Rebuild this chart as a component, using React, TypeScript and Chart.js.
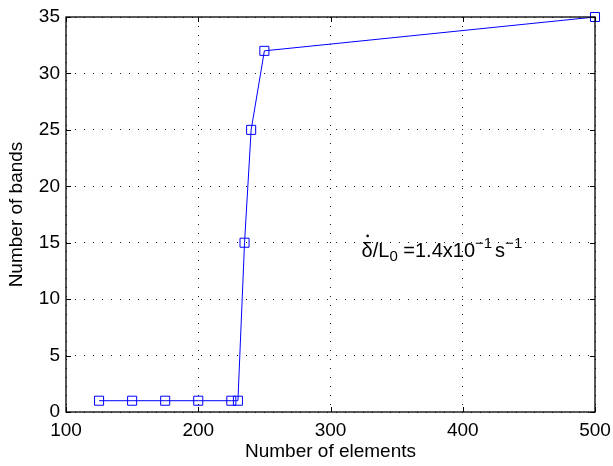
import React, { useEffect, useRef } from "react";
import { Chart, registerables } from "chart.js";

Chart.register(...registerables);

const elements = [125, 150, 175, 200, 225, 230, 235, 240, 250, 500];
const bands = [1, 1, 1, 1, 1, 1, 15, 25, 32, 35];
const xTicks = [100, 200, 300, 400, 500];
const yTicks = [0, 5, 10, 15, 20, 25, 30, 35];
const xLabel = "Number of elements";
const yLabel = "Number of bands";
const annotationPos = { x: 323.5, y: 13.7 };

const FONT = "'Liberation Sans', Arial, Helvetica, sans-serif";

const boxPlugin = {
  id: "boxPlugin",
  afterDatasetsDraw(chart: any) {
    const { ctx, chartArea } = chart;
    const { left, right, top, bottom } = chartArea;
    const xs = chart.scales.x;
    const ys = chart.scales.y;
    ctx.save();
    ctx.strokeStyle = "#000";
    ctx.lineWidth = 1;
    const tl = 5;
    ctx.beginPath();
    xTicks.forEach((v) => {
      const px = Math.round(xs.getPixelForValue(v)) + 0.5;
      ctx.moveTo(px, bottom);
      ctx.lineTo(px, bottom - tl);
      ctx.moveTo(px, top);
      ctx.lineTo(px, top + tl);
    });
    yTicks.forEach((v) => {
      const py = Math.round(ys.getPixelForValue(v)) + 0.5;
      ctx.moveTo(left, py);
      ctx.lineTo(left + tl, py);
      ctx.moveTo(right, py);
      ctx.lineTo(right - tl, py);
    });
    ctx.stroke();
    ctx.lineWidth = 1.3;
    ctx.strokeRect(left, top, right - left, bottom - top);

    // annotation
    let x = xs.getPixelForValue(annotationPos.x);
    const y = ys.getPixelForValue(annotationPos.y);
    ctx.fillStyle = "#000";
    ctx.textBaseline = "alphabetic";
    ctx.textAlign = "left";
    const big = `20px ${FONT}`;
    const small = `15px ${FONT}`;
    ctx.font = big;
    const dw = ctx.measureText("δ").width;
    ctx.fillText("δ", x, y);
    ctx.beginPath();
    ctx.arc(x + dw / 2 + 0.5, y - 21.5, 1.3, 0, Math.PI * 2);
    ctx.fill();
    x += dw;
    ctx.fillText("/L", x, y);
    x += ctx.measureText("/L").width;
    ctx.font = small;
    ctx.fillText("0", x, y + 4);
    x += ctx.measureText("0").width;
    ctx.font = big;
    ctx.fillText(" =1.4x10", x, y);
    x += ctx.measureText(" =1.4x10").width;
    ctx.font = small;
    ctx.fillText("\u22121", x, y - 9);
    x += ctx.measureText("\u22121").width + 3;
    ctx.font = big;
    ctx.fillText("s", x, y);
    x += ctx.measureText("s").width;
    ctx.font = small;
    ctx.fillText("\u22121", x, y - 9);
    ctx.restore();
  },
};

export default function App() {
  const ref = useRef<HTMLCanvasElement>(null);
  useEffect(() => {
    if (!ref.current) return;
    const chart = new Chart(ref.current, {
      type: "scatter",
      data: {
        datasets: [
          {
            data: elements.map((e, i) => ({ x: e, y: bands[i] })),
            showLine: true,
            clip: false,
            borderColor: "#0000ff",
            borderWidth: 1,
            backgroundColor: "rgba(0,0,0,0)",
            pointStyle: "rect",
            pointRadius: 6.4,
            pointBorderColor: "#0000ff",
            pointBorderWidth: 1,
            pointBackgroundColor: "rgba(0,0,0,0)",
            tension: 0,
          },
        ],
      },
      options: {
        animation: false,
        responsive: false,
        layout: { padding: { top: 17, right: 18, left: 0, bottom: 0 } },
        plugins: { legend: { display: false }, tooltip: { enabled: false } },
        scales: {
          x: {
            type: "linear",
            min: 100,
            max: 500,
            afterFit(scale: any) {
              scale.height = 54;
              scale.paddingLeft = 0;
              scale.paddingRight = 0;
            },
            afterBuildTicks(scale: any) {
              scale.ticks = xTicks.map((v) => ({ value: v }));
            },
            ticks: {
              color: "#000",
              font: { family: FONT, size: 19 },
              padding: 7,
              maxRotation: 0,
            },
            grid: { color: "#222", lineWidth: 1, drawTicks: false },
            border: { display: false, dash: [1, 8] },
            title: {
              display: true,
              text: xLabel,
              color: "#000",
              font: { family: FONT, size: 19 },
              padding: { top: 0, bottom: 3 },
            },
          },
          y: {
            type: "linear",
            min: 0,
            max: 35,
            afterFit(scale: any) {
              scale.width = 66;
              scale.paddingTop = 0;
              scale.paddingBottom = 0;
            },
            afterBuildTicks(scale: any) {
              scale.ticks = yTicks.map((v) => ({ value: v }));
            },
            ticks: {
              color: "#000",
              font: { family: FONT, size: 19 },
              padding: 6,
            },
            grid: { color: "#222", lineWidth: 1, drawTicks: false },
            border: { display: false, dash: [1, 8] },
            title: {
              display: true,
              text: yLabel,
              color: "#000",
              font: { family: FONT, size: 19 },
              padding: { top: 5, bottom: 0 },
            },
          },
        },
      },
      plugins: [boxPlugin],
    });
    return () => chart.destroy();
  }, []);
  return (
    <div style={{ position: "absolute", left: 0, top: 0, width: 613, height: 466, background: "#fff" }}>
      <canvas ref={ref} width={613} height={466} style={{ display: "block" }} />
    </div>
  );
}
